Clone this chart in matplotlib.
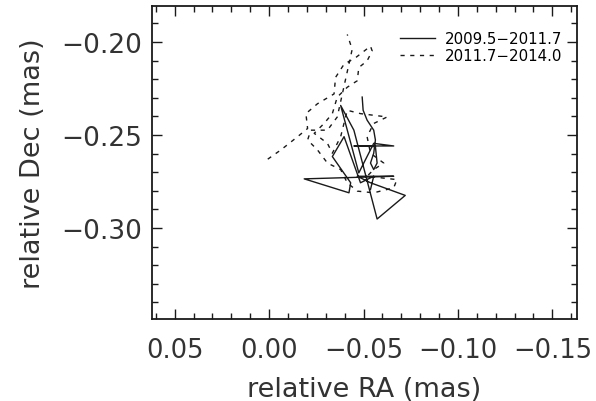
import matplotlib
matplotlib.use("Agg")
import matplotlib.pyplot as plt
from matplotlib.ticker import MultipleLocator, FuncFormatter

# Trace 1 (solid): 2009.5-2011.7
ra_1 = [-0.0493, -0.0498, -0.0519, -0.0554, -0.0563, -0.0554, -0.0537, -0.0554,
        -0.0572, -0.0563, -0.0449, -0.0660, -0.0554, -0.0475, -0.0379, -0.0449,
        -0.0572, -0.0721, -0.0537, -0.0467, -0.0660, -0.0186, -0.0423, -0.0432,
        -0.0335, -0.0397, -0.0484, -0.0554, -0.0537]
dec_1 = [-0.2296, -0.2367, -0.2420, -0.2474, -0.2527, -0.2598, -0.2651, -0.2686,
         -0.2651, -0.2562, -0.2559, -0.2559, -0.2545, -0.2704, -0.2341, -0.2474,
         -0.2952, -0.2825, -0.2757, -0.2722, -0.2722, -0.2736, -0.2811, -0.2757,
         -0.2616, -0.2509, -0.2757, -0.2722, -0.2793]

# Trace 2 (dashed): 2011.7-2014.0
ra_2 = [0.0007, -0.0063, -0.0151, -0.0204, -0.0195, -0.0256, -0.0344, -0.0352,
        -0.0397, -0.0458, -0.0537, -0.0546, -0.0519, -0.0475, -0.0467, -0.0414,
        -0.0361, -0.0335, -0.0291, -0.0239, -0.0309, -0.0335, -0.0379, -0.0414,
        -0.0484, -0.0625, -0.0554, -0.0519, -0.0537, -0.0607, -0.0554, -0.0519,
        -0.0677, -0.0660, -0.0554, -0.0467, -0.0414, -0.0379, -0.0309, -0.0256,
        -0.0204, -0.0221, -0.0309, -0.0361, -0.0440, -0.0414]
dec_2 = [-0.2630, -0.2580, -0.2509, -0.2465, -0.2385, -0.2332, -0.2279, -0.2190,
         -0.2119, -0.2084, -0.2022, -0.2048, -0.2101, -0.2137, -0.2208, -0.2243,
         -0.2296, -0.2385, -0.2438, -0.2491, -0.2545, -0.2598, -0.2509, -0.2367,
         -0.2385, -0.2403, -0.2438, -0.2509, -0.2598, -0.2651, -0.2686, -0.2722,
         -0.2740, -0.2784, -0.2811, -0.2802, -0.2757, -0.2686, -0.2651, -0.2580,
         -0.2527, -0.2474, -0.2474, -0.2403, -0.2039, -0.1959]

labels = ["2009.5\u22122011.7", "2011.7\u22122014.0"]
x_ticks = [0.05, 0.00, -0.05, -0.10, -0.15]
y_ticks = [-0.20, -0.25, -0.30]


def fmt(v, pos=None):
    s = "%.2f" % v
    if s.startswith('-'):
        s = '\u2212' + s[1:]
    return s


fig = plt.figure(figsize=(5.96, 4.02), dpi=100)
ax = fig.add_axes([0.255, 0.204, 0.713, 0.779])

ink = '#1a1a1a'
txt = '#333333'
ax.plot(ra_1, dec_1, color=ink, lw=1.0, ls='-', label=labels[0])
ax.plot(ra_2, dec_2, color=ink, lw=1.0, ls=(0, (3, 4)), label=labels[1])

ax.set_xlim(0.062, -0.163)
ax.set_ylim(-0.349, -0.1805)
ax.set_xticks(x_ticks)
ax.set_yticks(y_ticks)
ax.xaxis.set_minor_locator(MultipleLocator(0.01))
ax.yaxis.set_minor_locator(MultipleLocator(0.01))
ax.xaxis.set_major_formatter(FuncFormatter(fmt))
ax.yaxis.set_major_formatter(FuncFormatter(fmt))

ax.tick_params(which='both', direction='in', top=True, right=True, color=ink)
ax.tick_params(which='major', length=7, width=1.0)
ax.tick_params(which='minor', length=4, width=1.0)
ax.tick_params(axis='x', which='major', pad=13, labelsize=18.5, labelcolor=txt)
ax.tick_params(axis='y', which='major', pad=7, labelsize=19, labelcolor=txt)
for s in ax.spines.values():
    s.set_linewidth(1.3)
    s.set_color(ink)

ax.set_xlabel('relative RA (mas)', fontsize=19.5, color=txt, labelpad=9)
ax.set_ylabel('relative Dec (mas)', fontsize=19.5, color=txt, labelpad=11)

ax.legend(loc='upper right', bbox_to_anchor=(0.965, 0.92), frameon=False,
          fontsize=10.8, handlelength=2.3, handletextpad=0.65, labelspacing=0.15,
          borderaxespad=0.0, borderpad=0.0)

fig.savefig('out.png', dpi=100)
